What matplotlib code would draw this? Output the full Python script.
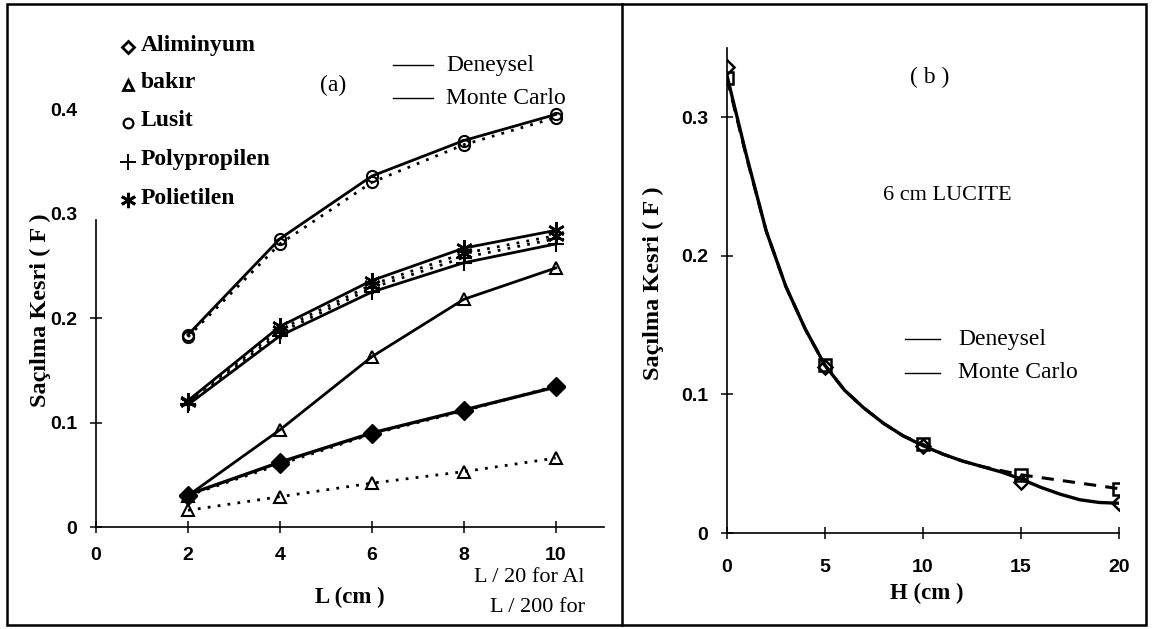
import numpy as np
import matplotlib
matplotlib.use('Agg')
import matplotlib.pyplot as plt
from matplotlib.lines import Line2D
from matplotlib.patches import Rectangle

# ---- data (a): scattering fraction vs L
L = [2, 4, 6, 8, 10]
alu_mc = [0.031, 0.062, 0.090, 0.112, 0.134]
alu_den = [0.030, 0.060, 0.089, 0.111, 0.135]
bakir_solid = [0.030, 0.093, 0.163, 0.218, 0.248]
bakir_dotted = [0.016, 0.029, 0.042, 0.053, 0.066]
lusit_mc = [0.184, 0.276, 0.336, 0.370, 0.395]
lusit_den = [0.182, 0.271, 0.330, 0.366, 0.392]
pp_mc = [0.117, 0.183, 0.225, 0.253, 0.271]
pp_den = [0.118, 0.186, 0.229, 0.258, 0.276]
pe_mc = [0.121, 0.192, 0.236, 0.267, 0.284]
pe_den = [0.120, 0.189, 0.232, 0.262, 0.279]

# ---- data (b): 6 cm lucite, F vs H
H_pts = [0, 5, 10, 15, 20]
mc_pts = [0.336, 0.120, 0.063, 0.037, 0.0215]
den_pts = [0.328, 0.121, 0.064, 0.042, 0.032]
H_curve = [0, 1, 2, 3, 4, 5, 6, 7, 8, 9, 10, 11, 12, 13, 14, 15, 16, 17, 18, 19, 20]
mc_curve = [0.330, 0.272, 0.218, 0.178, 0.147, 0.121, 0.103, 0.090, 0.079, 0.070,
            0.063, 0.057, 0.052, 0.048, 0.044, 0.039, 0.033, 0.028, 0.024, 0.022, 0.0215]
den_H = [0, 1, 2, 3, 4, 5, 6, 7, 8, 9, 10, 11, 12, 13, 14, 15, 20]
den_curve = [0.328, 0.271, 0.218, 0.178, 0.147, 0.121, 0.103, 0.090, 0.079, 0.070,
             0.064, 0.057, 0.052, 0.048, 0.045, 0.042, 0.032]

legend_names = ['Aliminyum', 'bakır', 'Lusit', 'Polypropilen', 'Polietilen']
yticks_a = [0, 0.1, 0.2, 0.3, 0.4]
yticks_b = [0, 0.1, 0.2, 0.3]
xticks_a = [0, 2, 4, 6, 8, 10]
xticks_b = [0, 5, 10, 15, 20]

SERIF = 'Liberation Serif'
SANS = 'Liberation Sans'
W, H = 1152, 629
fig = plt.figure(figsize=(11.52, 6.29), dpi=100)


def fx(px):
    return px / W


def fy(py):
    return 1 - py / H


def style_axes(ax, pad_x, pad_y):
    for s in ['top', 'right']:
        ax.spines[s].set_visible(False)
    for s in ['left', 'bottom']:
        ax.spines[s].set_linewidth(1.2)
    ax.tick_params(direction='inout', length=9, width=1.1)
    ax.tick_params(axis='x', pad=pad_x)
    ax.tick_params(axis='y', pad=pad_y)
    for lab in ax.get_xticklabels() + ax.get_yticklabels():
        lab.set_fontfamily(SANS)
        lab.set_fontweight('bold')
        lab.set_fontsize(14)
    ax.patch.set_alpha(0)


dot = (0, (1, 2.6))
LW = 2.0

# ---------------- panel (a)
ax1 = fig.add_axes([fx(96), fy(527), 508 / W, 470 / H])
ax1.set_xlim(0, 11.05)
ax1.set_ylim(0, 0.45)

ax1.plot(L, lusit_den, color='k', lw=2, ls=dot, marker='o', ms=8, mfc='none', mew=1.5)
ax1.plot(L, lusit_mc, color='k', lw=LW, marker='o', ms=8, mfc='none', mew=1.5)
ax1.plot(L, pe_den, color='k', lw=2, ls=dot, marker=(6, 2, 0), ms=12, mew=1.8)
ax1.plot(L, pp_den, color='k', lw=2, ls=dot, marker='+', ms=11, mew=1.5)
ax1.plot(L, pe_mc, color='k', lw=LW, marker=(6, 2, 0), ms=12, mew=1.8)
ax1.plot(L, pp_mc, color='k', lw=LW, marker='+', ms=11, mew=1.5)
ax1.plot(L, bakir_solid, color='k', lw=LW, marker='^', ms=8, mfc='none', mew=1.5)
ax1.plot(L, bakir_dotted, color='k', lw=2, ls=dot, marker='^', ms=8, mfc='none', mew=1.5)
ax1.plot(L, alu_den, color='k', lw=2, ls=dot, marker='D', ms=9, mfc='k', mew=1)
ax1.plot(L, alu_mc, color='k', lw=2.4, marker='D', ms=9, mfc='k', mew=1)

ax1.set_xticks(xticks_a)
ax1.set_xticklabels([str(v) for v in xticks_a])
ax1.set_yticks(yticks_a)
ax1.set_yticklabels(['0', '0.1', '0.2', '0.3', '0.4'])
ax1.spines['left'].set_bounds(0, 0.294)
style_axes(ax1, 10, 9)
for t in ax1.yaxis.get_major_ticks()[3:]:
    t.tick1line.set_visible(False)

# ---------------- panel (b)
ax2 = fig.add_axes([fx(727), fy(533), 392 / W, 485 / H])
ax2.set_xlim(0, 20)
ax2.set_ylim(0, 0.35)
ax2.plot(den_H, den_curve, color='k', lw=2.2, ls=(0, (4, 3)))
ax2.plot(H_curve, mc_curve, color='k', lw=2.4)
ax2.plot(H_pts, den_pts, ls='none', marker='s', ms=8, mfc='none', mec='k', mew=1.8)
ax2.plot(H_pts, mc_pts, ls='none', marker='D', ms=7, mfc='none', mec='k', mew=1.8)
ax2.set_xticks(xticks_b)
ax2.set_xticklabels([str(v) for v in xticks_b])
ax2.set_yticks(yticks_b)
ax2.set_yticklabels(['0', '0.1', '0.2', '0.3'])
style_axes(ax2, 14, 9)

# ---------------- frame
fig.add_artist(Rectangle((fx(7), fy(625)), fx(1146) - fx(7), fy(4) - fy(625),
                         transform=fig.transFigure, fill=False, lw=1.8, ec='k'))
fig.add_artist(Line2D([fx(622), fx(622)], [fy(4), fy(625)], color='k', lw=1.8))

# ---------------- texts panel (a)
fig.text(fx(40), fy(310), 'Saçılma Kesri ( F )', rotation=90, ha='center', va='center',
         fontsize=17.5, fontweight='bold', family=SERIF)
fig.text(fx(350), fy(597), 'L (cm )', ha='center', va='center', fontsize=16.5,
         fontweight='bold', family=SERIF)
fig.text(fx(585), fy(577), 'L / 20 for Al', ha='right', va='center', fontsize=16, family=SERIF)
fig.text(fx(585), fy(607), 'L / 200 for', ha='right', va='center', fontsize=16, family=SERIF)
fig.text(fx(333), fy(85), '(a)', ha='center', va='center', fontsize=17, family=SERIF)

leg_markers = [dict(marker='D', ms=6, mfc='none', mew=2),
               dict(marker='^', ms=7, mfc='none', mew=2),
               dict(marker='o', ms=7, mfc='none', mew=1.6),
               dict(marker='+', ms=11, mew=1.4),
               dict(marker=(6, 2, 0), ms=11, mew=2)]
leg_y = [45, 83, 121, 160, 198]
for name, mk, yy in zip(legend_names, leg_markers, leg_y):
    fig.add_artist(Line2D([fx(128)], [fy(yy + 2)], color='k', ls='none', **mk))
    fig.text(fx(141), fy(yy), name, ha='left', va='center', fontsize=17,
             fontweight='bold', family=SERIF)

for yy, lab in [(65, 'Deneysel'), (98, 'Monte Carlo')]:
    fig.add_artist(Line2D([fx(393), fx(433)], [fy(yy), fy(yy)], color='k', lw=1))
    fig.text(fx(446), fy(yy), lab, ha='left', va='center', fontsize=17, family=SERIF)

# ---------------- texts panel (b)
fig.text(fx(653), fy(283), 'Saçılma Kesri ( F )', rotation=90, ha='center', va='center',
         fontsize=17.5, fontweight='bold', family=SERIF)
fig.text(fx(927), fy(593), 'H (cm )', ha='center', va='center', fontsize=16.5,
         fontweight='bold', family=SERIF)
fig.text(fx(930), fy(77), '( b )', ha='center', va='center', fontsize=17, family=SERIF)
fig.text(fx(947), fy(195), '6 cm LUCITE', ha='center', va='center', fontsize=16, family=SERIF)
for yy, lab in [(339, 'Deneysel'), (373, 'Monte Carlo')]:
    fig.add_artist(Line2D([fx(905), fx(940)], [fy(yy), fy(yy)], color='k', lw=1))
    fig.text(fx(958), fy(yy), lab, ha='left', va='center', fontsize=17, family=SERIF)

fig.savefig('out.png', dpi=100)
